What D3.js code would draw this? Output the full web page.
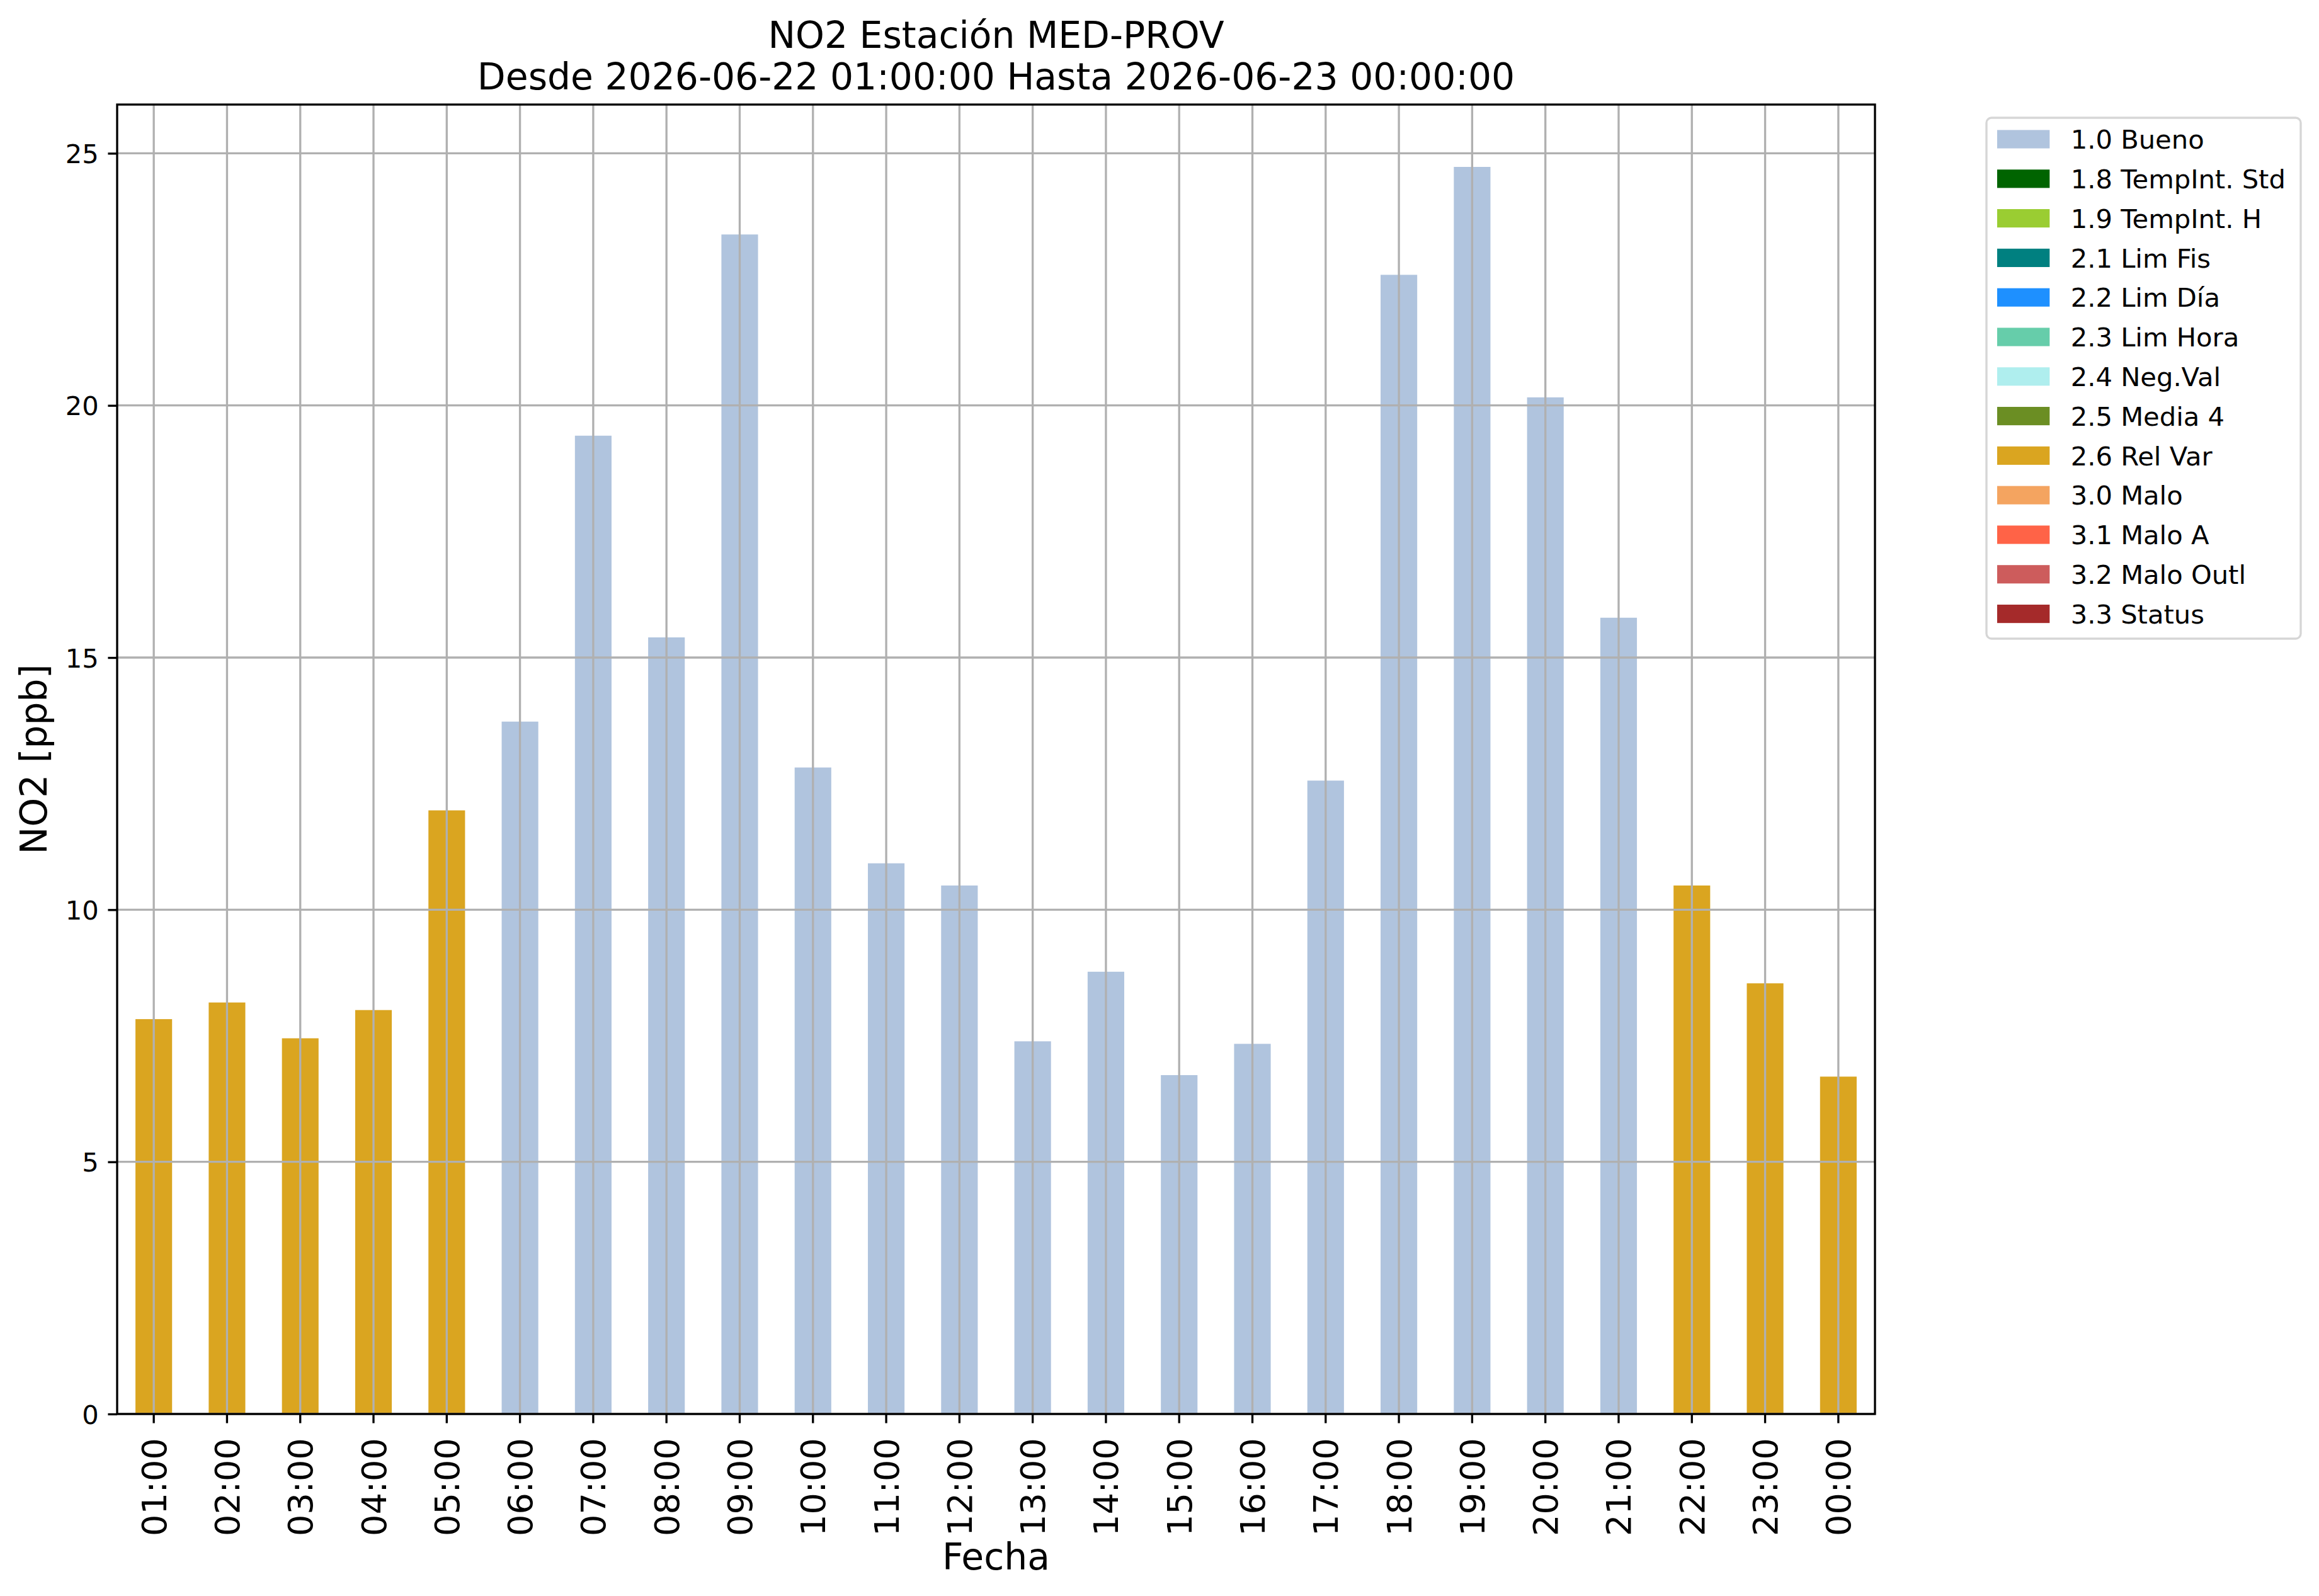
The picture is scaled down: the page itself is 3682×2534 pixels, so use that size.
<!DOCTYPE html>
<html>
<head>
<meta charset="utf-8">
<script src="https://cdn.jsdelivr.net/npm/d3@7"></script>
<style>
  html, body { margin: 0; padding: 0; background: #ffffff; }
  svg { display: block; }
  text { font-family: "DejaVu Sans", sans-serif; fill: #000; }
</style>
</head>
<body>
<script>
// ---- data ----
const hours = ["01:00","02:00","03:00","04:00","05:00","06:00","07:00","08:00","09:00","10:00","11:00","12:00",
               "13:00","14:00","15:00","16:00","17:00","18:00","19:00","20:00","21:00","22:00","23:00","00:00"];
const no2Values = [7.83, 8.16, 7.45, 8.01, 11.97, 13.73, 19.40, 15.40, 23.39, 12.82, 10.92, 10.48,
                   7.39, 8.77, 6.72, 7.34, 12.56, 22.59, 24.73, 20.16, 15.79, 10.48, 8.54, 6.69];
const flagCodes = ["2.6","2.6","2.6","2.6","2.6","1.0","1.0","1.0","1.0","1.0","1.0","1.0",
                   "1.0","1.0","1.0","1.0","1.0","1.0","1.0","1.0","1.0","2.6","2.6","2.6"];
const legendCodes = ["1.0","1.8","1.9","2.1","2.2","2.3","2.4","2.5","2.6","3.0","3.1","3.2","3.3"];
const legendNames = ["Bueno","TempInt. Std","TempInt. H","Lim Fis","Lim Día","Lim Hora","Neg.Val","Media 4","Rel Var","Malo","Malo A","Malo Outl","Status"];
const legendColors = ["#B0C4DE","#006400","#9ACD32","#008080","#1E90FF","#66CDAA","#AFEEEE","#6B8E23","#DAA520","#F4A460","#FF6347","#CD5C5C","#A52A2A"];
const yTicks = [0, 5, 10, 15, 20, 25];
const titleLines = ["NO2 Estación MED-PROV", "Desde 2026-06-22 01:00:00 Hasta 2026-06-23 00:00:00"];
const xLabel = "Fecha";
const yLabel = "NO2 [ppb]";

// ---- layout ----
const W = 3682, H = 2534;
const plot = { left: 186, right: 2977, top: 166, bottom: 2245 };
const pt = 300 / 72;
const lw = 0.8 * pt;

const svg = d3.select("body").append("svg").attr("width", W).attr("height", H);
svg.append("rect").attr("width", W).attr("height", H).attr("fill", "#fff");

const x = d3.scaleBand().domain(hours).range([plot.left, plot.right]).paddingInner(0.5).paddingOuter(0.25);
const y = d3.scaleLinear().domain([0, d3.max(no2Values) * 1.05]).range([plot.bottom, plot.top]);
const color = d3.scaleOrdinal().domain(legendCodes).range(legendColors);

// bars
svg.append("g").selectAll("rect").data(hours).join("rect")
  .attr("x", d => x(d))
  .attr("width", x.bandwidth())
  .attr("y", (d, i) => y(no2Values[i]))
  .attr("height", (d, i) => y(0) - y(no2Values[i]))
  .attr("fill", (d, i) => color(flagCodes[i]));

// grid (above bars)
const grid = svg.append("g").attr("stroke", "#b0b0b0").attr("stroke-width", lw);
grid.selectAll("line.v").data(hours).join("line").attr("class", "v")
  .attr("x1", d => x(d) + x.bandwidth() / 2).attr("x2", d => x(d) + x.bandwidth() / 2)
  .attr("y1", plot.top).attr("y2", plot.bottom);
grid.selectAll("line.h").data(yTicks).join("line").attr("class", "h")
  .attr("x1", plot.left).attr("x2", plot.right)
  .attr("y1", d => y(d)).attr("y2", d => y(d));

// axes
const tickLen = 3.5 * pt, tickPad = 3.5 * pt;
const yAxis = svg.append("g").attr("transform", `translate(${plot.left},0)`)
  .call(d3.axisLeft(y).tickValues(yTicks).tickSize(tickLen).tickPadding(tickPad).tickFormat(d3.format("d")));
yAxis.select(".domain").remove();
yAxis.selectAll(".tick line").attr("stroke", "#000").attr("stroke-width", lw);
yAxis.selectAll(".tick text").attr("font-family", "DejaVu Sans").attr("font-size", 10 * pt).attr("dy", "0.36em").attr("fill", "#000");

const xAxis = svg.append("g").attr("transform", `translate(0,${plot.bottom})`)
  .call(d3.axisBottom(x).tickSize(tickLen).tickPadding(tickPad));
xAxis.select(".domain").remove();
xAxis.selectAll(".tick line").attr("stroke", "#000").attr("stroke-width", lw);
xAxis.selectAll(".tick text")
  .attr("font-family", "DejaVu Sans").attr("font-size", 13 * pt).attr("fill", "#000")
  .attr("text-anchor", "end").attr("x", 0).attr("y", 0).attr("dy", "0.36em")
  .attr("transform", "translate(0,38) rotate(-90)");

// spines
svg.append("rect").attr("x", plot.left).attr("y", plot.top)
  .attr("width", plot.right - plot.left).attr("height", plot.bottom - plot.top)
  .attr("fill", "none").attr("stroke", "#000").attr("stroke-width", lw);

// title
const cx = (plot.left + plot.right) / 2;
svg.append("text").attr("x", cx).attr("y", 76).attr("text-anchor", "middle").attr("font-size", 14 * pt).text(titleLines[0]);
svg.append("text").attr("x", cx).attr("y", 142).attr("text-anchor", "middle").attr("font-size", 14 * pt).text(titleLines[1]);

// axis labels
svg.append("text").attr("x", cx).attr("y", 2492).attr("text-anchor", "middle").attr("font-size", 14 * pt).text(xLabel);
svg.append("text").attr("transform", `translate(74,${(plot.top + plot.bottom) / 2}) rotate(-90)`)
  .attr("text-anchor", "middle").attr("font-size", 14 * pt).text(yLabel);

// legend
const fs = 10 * pt;
const lg = svg.append("g");
lg.append("rect").attr("x", 3154).attr("y", 187).attr("width", 3653 - 3154).attr("height", 1014 - 187)
  .attr("rx", 8).attr("ry", 8).attr("fill", "#fff").attr("fill-opacity", 0.8)
  .attr("stroke", "#cccccc").attr("stroke-opacity", 0.8).attr("stroke-width", lw);
const rowStep = 62.8, row0 = 221;
legendCodes.forEach((c, i) => {
  const cy = row0 + i * rowStep;
  lg.append("rect").attr("x", 3171).attr("y", cy - 0.35 * fs).attr("width", 2 * fs).attr("height", 0.7 * fs)
    .attr("fill", color(c));
  lg.append("text").attr("x", 3171 + 2 * fs + 0.8 * fs).attr("y", cy + 0.365 * fs)
    .attr("font-size", fs).text(c + " " + legendNames[i]);
});
</script>
</body>
</html>
